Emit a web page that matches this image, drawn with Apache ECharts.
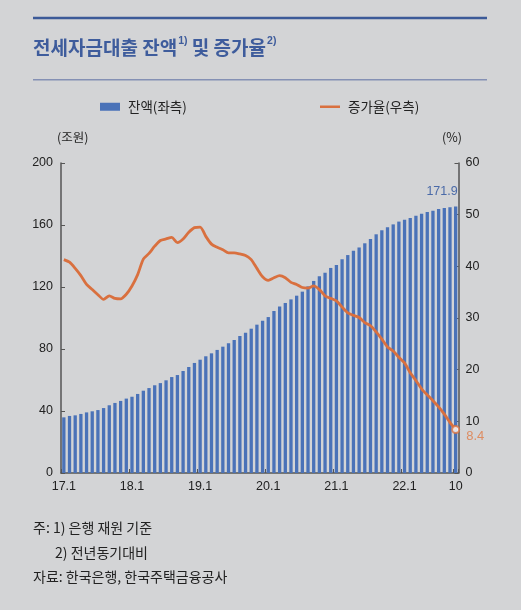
<!DOCTYPE html>
<html>
<head>
<meta charset="utf-8">
<script src="https://cdn.jsdelivr.net/npm/echarts@6/dist/echarts.min.js"></script>
<style>
html,body{margin:0;padding:0;background:#d3d4d6;}
#c{width:521px;height:610px;}
</style>
</head>
<body>
<div id="c"></div>
<script>
var categories = [
 '17.1','17.2','17.3','17.4','17.5','17.6','17.7','17.8','17.9','17.10','17.11','17.12',
 '18.1','18.2','18.3','18.4','18.5','18.6','18.7','18.8','18.9','18.10','18.11','18.12',
 '19.1','19.2','19.3','19.4','19.5','19.6','19.7','19.8','19.9','19.10','19.11','19.12',
 '20.1','20.2','20.3','20.4','20.5','20.6','20.7','20.8','20.9','20.10','20.11','20.12',
 '21.1','21.2','21.3','21.4','21.5','21.6','21.7','21.8','21.9','21.10','21.11','21.12',
 '22.1','22.2','22.3','22.4','22.5','22.6','22.7','22.8','22.9','22.10'
];
var balance = [
 35.9,36.8,37.2,38.1,39.1,39.8,40.6,41.9,43.7,45.2,46.5,48.0,
 49.2,51.0,53.1,54.8,56.6,58.0,59.8,61.9,63.2,65.8,68.4,71.0,
 73.1,75.3,77.2,79.4,81.5,83.7,85.8,88.4,90.5,93.1,95.7,98.3,
 100.6,104.5,107.5,109.7,112.0,114.4,117.0,120.4,123.9,126.9,129.2,132.3,
 134.2,137.9,140.6,143.4,145.5,148.2,151.0,154.0,156.6,158.5,160.4,162.2,
 163.4,164.5,166.0,167.3,168.4,169.2,170.3,171.0,171.5,171.9
];
var growth = [
 41.3,40.8,39.6,38.2,36.5,35.5,34.5,33.6,34.3,33.8,33.7,34.6,
 36.2,38.4,41.4,42.5,43.9,45.0,45.3,45.6,44.6,45.3,46.6,47.5,
 47.6,45.8,44.3,43.7,43.2,42.6,42.6,42.4,42.1,41.3,39.6,38.0,
 37.3,37.8,38.2,37.8,36.9,36.5,35.9,35.8,36.2,35.5,34.3,33.8,
 33.3,32.1,31.0,30.5,30.1,29.1,28.5,27.3,25.9,24.4,23.6,22.4,
 21.3,19.4,17.9,16.3,15.1,14.0,12.8,11.4,9.8,8.4
];
var leftTicks = {min:0, max:200, interval:40};
var rightTicks = {min:0, max:60, interval:10};
var seriesNames = ['잔액(좌측)','증가율(우측)'];
var titleText = ['전세자금대출 잔액','1)',' 및 증가율','2)'];
var notes = ['주: 1) 은행 재원 기준','2) 전년동기대비','자료: 한국은행, 한국주택금융공사'];

var FONT = '"Liberation Sans", "Noto Sans CJK KR", sans-serif';
var KFONT = '"Noto Sans CJK KR", "Liberation Sans", sans-serif';
var BLUE = '#4a72b8';
var ORANGE = '#d9703f';
var AXIS = '#555';
var last = categories.length - 1;

var barData = balance.map(function(v,i){
  if (i === last) {
    return {value:v, label:{show:true, position:'top', align:'right', offset:[2,-4],
      formatter:'{c}', color:'#4a6aa8', fontSize:12.5, fontFamily:FONT}};
  }
  return v;
});

var chart = echarts.init(document.getElementById('c'), null, {renderer:'canvas'});
chart.setOption({
  backgroundColor:'#d3d4d6',
  animation:false,
  title:{
    left:33, top:36, padding:0,
    text:'{t|'+titleText[0]+'}{s|'+titleText[1]+'}{t|'+titleText[2]+'}{s|'+titleText[3]+'}',
    textStyle:{
      rich:{
        t:{fontSize:19, fontWeight:'bold', color:'#3e5c9c', fontFamily:KFONT, lineHeight:24},
        s:{fontSize:10.5, fontWeight:'bold', color:'#3e5c9c', fontFamily:FONT, verticalAlign:'top', lineHeight:12, padding:[0,0,0,1]}
      }
    }
  },
  legend:[
    {data:[seriesNames[0]], left:100, top:100, padding:0, icon:'rect', itemWidth:20, itemHeight:8,
     textStyle:{fontSize:13.5, color:'#222', fontFamily:KFONT, padding:[0,0,0,3]}},
    {data:[seriesNames[1]], left:320, top:100, padding:0, icon:'rect', itemWidth:20, itemHeight:2.5,
     textStyle:{fontSize:13.5, color:'#222', fontFamily:KFONT, padding:[0,0,0,3]}}
  ],
  grid:{left:61, right:62.5, top:163, bottom:137, containLabel:false},
  xAxis:{
    type:'category', data:categories, boundaryGap:true,
    axisLine:{show:true, lineStyle:{color:AXIS, width:1.5}},
    axisTick:{show:true, inside:true, length:4, lineStyle:{color:AXIS},
      interval:function(i){return i%12===0 || i===last;}},
    axisLabel:{interval:function(i){return i%12===0 || i===last;},
      formatter:function(v,i){return i===last ? '10' : v;},
      color:'#222', fontSize:12.5, fontFamily:FONT, margin:7},
    splitLine:{show:false}
  },
  yAxis:[
    {type:'value', min:leftTicks.min, max:leftTicks.max, interval:leftTicks.interval,
     axisLine:{show:true, lineStyle:{color:AXIS, width:1.5}},
     axisTick:{show:true, inside:true, length:4, lineStyle:{color:AXIS}},
     axisLabel:{color:'#222', fontSize:12.5, fontFamily:FONT, margin:8},
     splitLine:{show:false}},
    {type:'value', min:rightTicks.min, max:rightTicks.max, interval:rightTicks.interval, position:'right',
     axisLine:{show:true, lineStyle:{color:AXIS, width:1.5}},
     axisTick:{show:true, inside:true, length:4, lineStyle:{color:AXIS}},
     axisLabel:{color:'#222', fontSize:12.5, fontFamily:FONT, margin:7},
     splitLine:{show:false}}
  ],
  series:[
    {name:seriesNames[0], type:'bar', yAxisIndex:0, data:barData, barWidth:3.3,
     itemStyle:{color:BLUE}, z:2},
    {name:seriesNames[1], type:'line', yAxisIndex:1, data:growth, symbol:'none',
     smooth:0.25, lineStyle:{color:ORANGE, width:2.8}, itemStyle:{color:ORANGE}, z:3},
    {name:'last', type:'scatter', yAxisIndex:1, data:[[categories[last], growth[last]]],
     symbol:'circle', symbolSize:7, itemStyle:{color:'#fff', borderColor:ORANGE, borderWidth:2}, z:4,
     label:{show:true, position:'right', distance:6, offset:[0,7], formatter:function(p){return p.value[1];},
       color:'#e07b45', fontSize:13, fontFamily:FONT}}
  ],
  graphic:[
    {type:'rect', shape:{x:33, y:16.8, width:454, height:2.5}, style:{fill:'#3c5a98'}},
    {type:'rect', shape:{x:33, y:79, width:454, height:1.5}, style:{fill:'#8490b4'}},
    {type:'text', left:57, top:131, style:{text:'(조원)', fill:'#222', font:'12.5px '+KFONT}},
    {type:'text', left:442, top:131, style:{text:'(%)', fill:'#222', font:'12.5px '+KFONT}},
    {type:'text', left:33, top:521, style:{text:notes[0], fill:'#222', font:'14px '+KFONT}},
    {type:'text', left:55, top:546, style:{text:notes[1], fill:'#222', font:'14px '+KFONT}},
    {type:'text', left:33, top:570, style:{text:notes[2], fill:'#222', font:'14px '+KFONT}}
  ]
});
</script>
</body>
</html>
